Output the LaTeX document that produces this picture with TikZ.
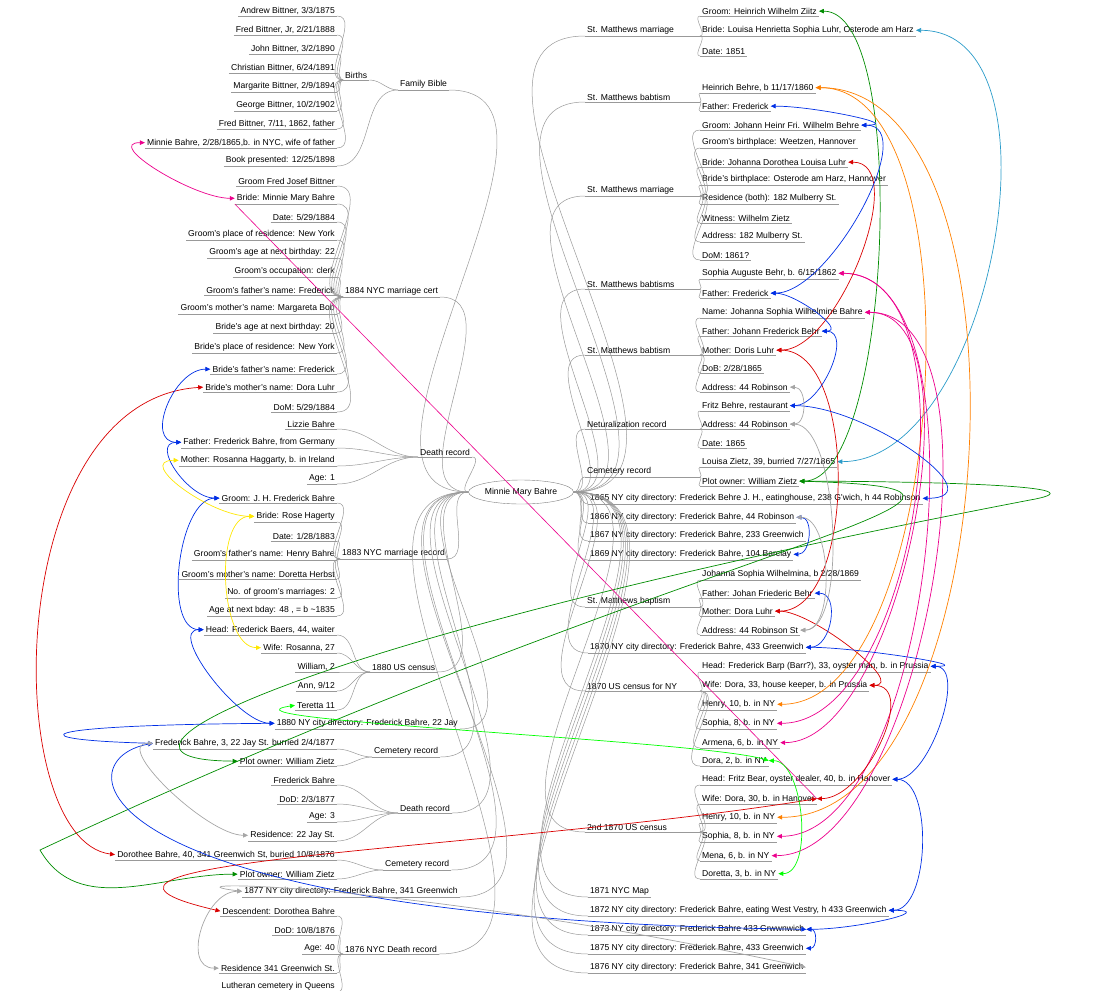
\documentclass[tikz,border=0pt]{standalone}
\usepackage{fontspec}
\setmainfont{Liberation Sans}
\usetikzlibrary{shapes.geometric,arrows.meta}
\newcommand\LL[3]{\node[lf,anchor=south east] (#1) at (337,#2+8) {#3};\draw[br] (#1.south west)--(#1.south east);}
\newcommand\LD[3]{\node[lf,anchor=south east] (#1) at (460,#2+8) {#3};\draw[br] (#1.south west)--(#1.south east);}
\newcommand\LC[4]{\node[lf,anchor=south west] (#1) at (#2,#3+8) {#4};\draw[br] (#1.south west)--(#1.south east);}
\newcommand\RL[3]{\node[lf,anchor=south west] (#1) at (700,#2+8) {#3};\draw[br] (#1.south west)--(#1.south east);}
\newcommand\RD[3]{\node[lf,anchor=south west] (#1) at (588,#2+8) {#3};\draw[br] (#1.south west)--(#1.south east);\draw[br] (mm.east) to[out=0,in=180] (#1.south west);}
\newcommand\RC[3]{\node[lf,anchor=south west] (#1) at (585,#2+8) {#3};\coordinate (#1-e) at (700,#2+8);\draw[br] (#1.south west)--(#1-e);\draw[br] (mm.east) to[out=0,in=180] (#1.south west);}
\newcommand\LG[2]{\foreach \q in {#2}{\draw[br] (\q.south east) to[out=0,in=180] (#1.south west);}\draw[br] (#1.south east) to[out=0,in=180] (mm.west);}
\newcommand\RG[2]{\foreach \q in {#2}{\draw[br] (#1-e) to[out=0,in=180] (\q.south west);}}
\begin{document}
\begin{tikzpicture}[x=1pt,y=-1pt,font=\fontsize{8.6}{10}\selectfont,
 lf/.style={inner xsep=2pt,inner ysep=1.5pt},
 br/.style={draw=gray!80,line width=0.5pt},
 lk/.style={line width=0.7pt,{Triangle[length=5pt,width=4.5pt]}-{Triangle[length=5pt,width=4.5pt]}}]
\useasboundingbox (0,0) rectangle (1109,991);
\node[ellipse,draw=gray,minimum width=95pt,minimum height=24pt,inner sep=1pt] (mm) at (521,492) {Minnie Mary Bahre};
% ---------- left
\LL{b1}{8}{Andrew Bittner, 3/3/1875}
\LL{b2}{27}{Fred Bittner, Jr, 2/21/1888}
\LL{b3}{46}{John Bittner, 3/2/1890}
\LL{b4}{65}{Christian Bittner, 6/24/1891}
\LL{b5}{84}{Margarite Bittner, 2/9/1894}
\LL{b6}{103}{George Bittner, 10/2/1902}
\LL{b7}{121}{Fred Bittner, 7/11, 1862, father}
\LL{b8}{140}{Minnie Bahre, 2/28/1865,b. in NYC, wife of father}
\LL{bp}{158}{Book presented: 12/25/1898}
\LC{births}{343}{72}{Births}
\LC{fb}{398}{82}{Family Bible}
\foreach \q in {b1,b2,b3,b4,b5,b6,b7,b8}{\draw[br] (\q.south east) to[out=0,in=180] (births.south west);}
\draw[br] (births.south east) to[out=0,in=180] (fb.south west);
\draw[br] (bp.south east) to[out=0,in=180] (fb.south west);
\draw[br] (fb.south east) to[out=0,in=180] (mm.west);
\LL{m1}{178}{Groom Fred Josef Bittner}
\LL{m2}{196}{Bride: Minnie Mary Bahre}
\LL{m3}{214}{Date: 5/29/1884}
\LL{m4}{232}{Groom's place of residence: New York}
\LL{m5}{250}{Groom's age at next birthday: 22}
\LL{m6}{269}{Groom's occupation: clerk}
\LL{m7}{287}{Groom's father's name: Frederick}
\LL{m8}{306}{Groom's mother's name: Margareta Bob}
\LL{m9}{325}{Bride's age at next birthday: 20}
\LL{m10}{345}{Bride's place of residence: New York}
\LL{m11}{366}{Bride's father's name: Frederick}
\LL{m12}{384}{Bride's mother's name: Dora Luhr}
\LL{m13}{404}{DoM: 5/29/1884}
\LC{mc}{343}{289}{1884 NYC marriage cert}
\LG{mc}{m1,m2,m3,m4,m5,m6,m7,m8,m9,m10,m11,m12,m13}
\LL{d1}{421}{Lizzie Bahre}
\LL{d2}{440}{Father: Frederick Bahre, from Germany}
\LL{d3}{458}{Mother: Rosanna Haggarty, b. in Ireland}
\LL{d4}{476}{Age: 1}
\LC{dr}{418}{449}{Death record}
\LG{dr}{d1,d2,d3,d4}
\LL{r1}{495}{Groom: J. H. Frederick Bahre}
\LL{r2}{514}{Bride: Rose Hagerty}
\LL{r3}{533}{Date: 1/28/1883}
\LL{r4}{552}{Groom's father's name: Henry Bahre}
\LL{r5}{571}{Groom's mother's name: Doretta Herbst}
\LL{r6}{590}{No. of groom's marriages: 2}
\LL{r7}{608}{Age at next bday: 48 , = b \textasciitilde1835}
\LC{mr}{340}{551}{1883 NYC marriage record}
\LG{mr}{r1,r2,r3,r4,r5,r6,r7}
\LL{c1}{627}{Head: Frederick Baers, 44, waiter}
\LL{c2}{645}{Wife: Rosanna, 27}
\LL{c3}{664}{William, 2}
\LL{c4}{683}{Ann, 9/12}
\LL{c5}{702}{Teretta 11}
\LC{uc}{370}{664}{1880 US census}
\LG{uc}{c1,c2,c3,c4,c5}
\LD{ld80}{721}{1880 NY city directory: Frederick Bahre, 22 Jay}
\draw[br] (ld80.south east) to[out=0,in=180] (mm.west);
\LL{cm1}{741}{Frederick Bahre, 3, 22 Jay St. burried 2/4/1877}
\LL{cm2}{758}{Plot owner: William Zietz}
\LC{cem1}{372}{749}{Cemetery record}
\LG{cem1}{cm1,cm2}
\LL{e1}{777}{Frederick Bahre}
\LL{e2}{796}{DoD: 2/3/1877}
\LL{e3}{814}{Age: 3}
\LL{e4}{833}{Residence: 22 Jay St.}
\LC{dr2}{398}{805}{Death record}
\LG{dr2}{e1,e2,e3,e4}
\LL{ce1}{852}{Dorothee Bahre, 40, 341 Greenwich St, buried 10/8/1876}
\LL{ce2}{871}{Plot owner: William Zietz}
\LC{cem2}{383}{862}{Cemetery record}
\LG{cem2}{ce1,ce2}
\LD{ld77}{889}{1877 NY city directory: Frederick Bahre, 341 Greenwich}
\draw[br] (ld77.south east) to[out=0,in=180] (mm.west);
\LL{f1}{908}{Descendent: Dorothea Bahre}
\LL{f2}{927}{DoD: 10/8/1876}
\LL{f3}{946}{Age: 40}
\LL{f4}{965}{Residence 341 Greenwich St.}
\LL{f5}{984}{Lutheran cemetery in Queens}
\LC{ndr}{343}{946}{1876 NYC Death record}
\LG{ndr}{f1,f2,f3,f4,f5}
% ---------- right
\RC{sa}{28}{St. Matthews marriage}
\RL{a1}{8}{Groom: Heinrich Wilhelm Ziitz}
\RL{a2}{28}{Bride: Louisa Henrietta Sophia Luhr, Osterode am Harz}
\RL{a3}{48}{Date: 1851}
\RG{sa}{a1,a2,a3}
\RC{sbb}{94}{St. Matthews babtism}
\RL{bb1}{85}{Heinrich Behre, b 11/17/1860}
\RL{bb2}{103}{Father: Frederick}
\RG{sbb}{bb1,bb2}
\RC{sm}{188}{St. Matthews marriage}
\RL{sm1}{122}{Groom: Johann Heinr Fri. Wilhelm Behre}
\RL{sm2}{140}{Groom's birthplace: Weetzen, Hannover}
\RL{sm3}{159}{Bride: Johanna Dorothea Louisa Luhr}
\RL{sm4}{177}{Bride's birthplace: Osterode am Harz, Hannover}
\RL{sm5}{196}{Residence (both): 182 Mulberry St.}
\RL{sm6}{215}{Witness: Wilhelm Zietz}
\RL{sm7}{234}{Address: 182 Mulberry St.}
\RL{sm8}{252}{DoM: 1861?}
\RG{sm}{sm1,sm2,sm3,sm4,sm5,sm6,sm7,sm8}
\RC{sbs}{281}{St. Matthews babtisms}
\RL{sb1}{271}{Sophia Auguste Behr, b. 6/15/1862}
\RL{sb2}{290}{Father: Frederick}
\RG{sbs}{sb1,sb2}
\RC{sbt}{347}{St. Matthews babtism}
\RL{bt1}{310}{Name: Johanna Sophia Wilhelmine Bahre}
\RL{bt2}{328}{Father: Johann Frederick Behr}
\RL{bt3}{347}{Mother: Doris Luhr}
\RL{bt4}{365}{DoB: 2/28/1865}
\RL{bt5}{384}{Address: 44 Robinson}
\RG{sbt}{bt1,bt2,bt3,bt4,bt5}
\RC{nat}{421}{Neturalization record}
\RL{nr1}{403}{Fritz Behre, restaurant}
\RL{nr2}{421}{Address: 44 Robinson}
\RL{nr3}{440}{Date: 1865}
\RG{nat}{nr1,nr2,nr3}
\RC{crr}{469}{Cemetery record}
\RL{cr1}{459}{Louisa Zietz, 39, burried 7/27/1865}
\RL{cr2}{478}{Plot owner: William Zietz}
\RG{crr}{cr1,cr2}
\RD{y65}{496}{1865 NY city directory: Frederick Behre J. H., eatinghouse, 238 G'wich, h 44 Robinson}
\RD{y66}{515}{1866 NY city directory: Frederick Bahre, 44 Robinson}
\RD{y67}{533}{1867 NY city directory: Frederick Bahre, 233 Greenwich}
\RD{y69}{552}{1869 NY city directory: Frederick Bahre, 104 Barclay}
\RC{sbq}{599}{St. Matthews baptism}
\RL{bq1}{572}{Johanna Sophia Wilhelmina, b 2/28/1869}
\RL{bq2}{590}{Father: Johan Friederic Behr}
\RL{bq3}{608}{Mother: Dora Luhr}
\RL{bq4}{627}{Address: 44 Robinson St}
\RG{sbq}{bq1,bq2,bq3,bq4}
\RD{y70}{645}{1870 NY city directory: Frederick Bahre, 433 Greenwich}
\RC{usc}{683}{1870 US census for NY}
\RL{u1}{664}{Head: Frederick Barp (Barr?), 33, oyster man, b. in Prussia}
\RL{u2}{683}{Wife: Dora, 33, house keeper, b. in Prussia}
\RL{u3}{702}{Henry, 10, b. in NY}
\RL{u4}{721}{Sophia, 8, b. in NY}
\RL{u5}{740}{Armena, 6, b. in NY}
\RL{u6}{758}{Dora, 2, b. in NY}
\RG{usc}{u1,u2,u3,u4,u5,u6}
\RC{usd}{824}{2nd 1870 US census}
\RL{v1}{777}{Head: Fritz Bear, oyster dealer, 40, b. in Hanover}
\RL{v2}{796}{Wife: Dora, 30, b. in Hanover}
\RL{v3}{815}{Henry, 10, b. in NY}
\RL{v4}{834}{Sophia, 8, b. in NY}
\RL{v5}{853}{Mena, 6, b. in NY}
\RL{v6}{871}{Doretta, 3, b. in NY}
\RG{usd}{v1,v2,v3,v4,v5,v6}
\RD{map}{889}{1871 NYC Map}
\RD{y72}{908}{1872 NY city directory: Frederick Bahre, eating West Vestry, h 433 Greenwich}
\RD{y73}{927}{1873 NY city directory: Frederick Bahre 433 Grwwnwich}
\RD{y75}{946}{1875 NY city directory: Frederick Bahre, 433 Greenwich}
\RD{y76}{965}{1876 NY city directory: Frederick Bahre, 341 Greenwich}
% ---------- links
\colorlet{lgreen}{green!55!black}
\colorlet{lblue}{blue!80!cyan!90!black}
\draw[lk,lgreen] (a1.east) to[out=0,in=0,looseness=0.5] (cr2.east);
\draw[lk,lgreen] (cr2.east) .. controls (1100,490) and (700,540) .. (40,850) to[out=-60,in=180] (ce2.west);
\draw[lk,lgreen] (cm2.west) .. controls (60,760) and (300,640) .. (1030,500) to[out=10,in=0] (cr2.east);
\draw[lk,cyan!80!black] (a2.east) to[out=0,in=0,looseness=0.9] (cr1.east);
\draw[lk,orange] (bb1.east) to[out=0,in=0,looseness=0.7] (u3.east);
\draw[lk,orange] (bb1.east) to[out=0,in=0,looseness=0.8] (v3.east);
\draw[lk,magenta] (sb1.east) to[out=0,in=0,looseness=0.8] (u4.east);
\draw[lk,magenta] (sb1.east) to[out=0,in=0,looseness=0.7] (v4.east);
\draw[lk,magenta] (bt1.east) to[out=0,in=0,looseness=0.7] (u5.east);
\draw[lk,magenta] (bt1.east) to[out=0,in=0,looseness=0.7] (v5.east);
\draw[lk,magenta] (b8.west) to[out=180,in=180,looseness=1] (m2.west);
\draw[magenta,line width=0.6pt] (m2.south west) -- (v2.east);
\draw[lk,red!85!black] (sm3.east) to[out=0,in=0,looseness=0.8] (bt3.east);
\draw[lk,red!85!black] (bt3.east) to[out=0,in=0,looseness=0.8] (bq3.east);
\draw[lk,red!85!black] (bq3.east) to[out=0,in=0,looseness=0.8] (u2.east);
\draw[lk,red!85!black] (u2.east) to[out=0,in=0,looseness=1] (v2.east);
\draw[lk,red!85!black] (m12.west) .. controls (0,400) and (0,840) .. (ce1.west);
\draw[lk,red!85!black] (v2.east) .. controls (500,850) and (0,860) .. (f1.west);
\draw[lk,lblue] (bb2.east) to[out=0,in=0,looseness=1.2] (sm1.east);
\draw[lk,lblue] (sm1.east) to[out=0,in=0,looseness=0.8] (sb2.east);
\draw[lk,lblue] (sb2.east) to[out=0,in=0,looseness=1] (bt2.east);
\draw[lk,lblue] (bt2.east) to[out=0,in=0,looseness=1] (nr1.east);
\draw[lk,lblue] (nr1.east) to[out=0,in=0,looseness=1.2] (y65.east);
\draw[lk,lblue] (y66.east) to[out=0,in=0,looseness=1.2] (y69.east);
\draw[lk,lblue] (bq2.east) to[out=0,in=0,looseness=1.2] (y70.east);
\draw[lk,lblue] (y70.east) to[out=0,in=0,looseness=1] (u1.east);
\draw[lk,lblue] (u1.east) to[out=0,in=0,looseness=0.8] (v1.east);
\draw[lk,lblue] (v1.east) to[out=0,in=0,looseness=0.8] (y72.east);
\draw[lk,lblue] (y72.east) to[out=0,in=0,looseness=1.5] (y73.east);
\draw[lk,lblue] (y73.east) to[out=0,in=0,looseness=1.5] (y75.east);
\draw[lk,lblue] (m11.west) to[out=180,in=180,looseness=1.2] (d2.west);
\draw[lk,lblue] (d2.west) to[out=180,in=180,looseness=1.2] (r1.west);
\draw[lk,lblue] (r1.west) to[out=180,in=180,looseness=0.8] (c1.west);
\draw[lk,lblue] (c1.west) to[out=180,in=180,looseness=0.8] (ld80.west);
\draw[lk,lblue] (ld80.west) .. controls (20,725) and (20,740) .. (cm1.west);
\draw[lk,lblue] (cm1.west) .. controls (60,760) and (80,920) .. (y73.east);
\draw[lk,yellow!90!orange] (d3.west) to[out=180,in=180,looseness=1.2] (r2.west);
\draw[lk,yellow!90!orange] (r2.west) to[out=180,in=180,looseness=0.8] (c2.west);
\draw[lk,green] (c5.west) .. controls (200,720) and (700,740) .. (u6.east);
\draw[lk,green] (u6.east) to[out=0,in=0,looseness=0.8] (v6.east);
\draw[lk,gray!70] (bt5.east) to[out=0,in=0,looseness=1.2] (nr2.east);
\draw[lk,gray!70] (nr2.east) to[out=0,in=0,looseness=0.6] (bq4.east);
\draw[lk,gray!70] (y66.east) to[out=0,in=0,looseness=0.8] (bq4.east);
\draw[lk,gray!70] (cm1.west) to[out=180,in=180,looseness=0.8] (e4.west);
\draw[lk,gray!70] (ld77.west) to[out=180,in=180,looseness=1.2] (f4.west);
\draw[lk,gray!70] (ld77.west) .. controls (150,880) and (400,880) .. (y76.east);
\end{tikzpicture}
\end{document}
